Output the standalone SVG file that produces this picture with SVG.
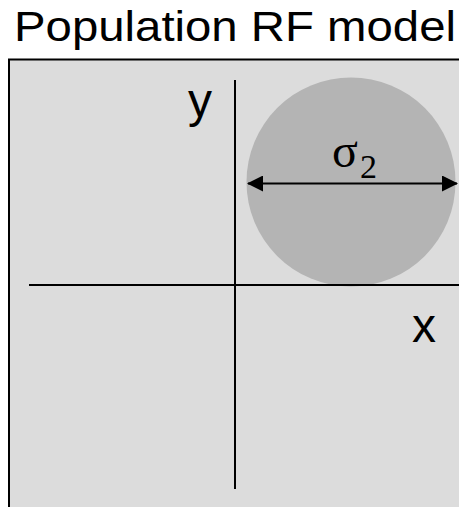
<svg xmlns="http://www.w3.org/2000/svg" width="459" height="507" viewBox="0 0 459 507">
<style>
.ax{stroke:#000;stroke-width:2;fill:none}
.lbl{font-family:"Liberation Sans",Arial,sans-serif;fill:#000}
.greek{font-family:"Liberation Serif","Times New Roman",serif;fill:#000}
</style>
<defs>
<marker id="ah" markerWidth="16" markerHeight="16" viewBox="0 0 16 16" refX="15" refY="8" orient="auto-start-reverse" markerUnits="userSpaceOnUse">
<path d="M0,0 L16,8 L0,16 Z" fill="#000"/>
</marker>
</defs>
<rect width="459" height="507" fill="#fff"/>
<text class="lbl" x="14" y="41" font-size="42" textLength="442" lengthAdjust="spacingAndGlyphs">Population RF model</text>
<g id="frame">
<rect x="9" y="59.5" width="460" height="460" fill="#dcdcdc" stroke="#000" stroke-width="2"/>
</g>
<g id="rf">
<circle cx="351" cy="182" r="104.5" fill="#b4b4b4"/>
<text class="greek" x="332" y="167" font-size="48">σ</text>
<text class="greek" x="360" y="178" font-size="34">2</text>
</g>
<g id="connectors">
<line class="ax" x1="29" y1="285" x2="459" y2="285"/>
<line class="ax" x1="235" y1="80" x2="235" y2="489"/>
<line class="ax" x1="248" y1="183.5" x2="457" y2="183.5" marker-start="url(#ah)" marker-end="url(#ah)"/>
</g>
<g id="labels">
<text class="lbl" x="188" y="117" font-size="48">y</text>
<text class="lbl" x="412" y="342" font-size="48">x</text>
</g>
</svg>
